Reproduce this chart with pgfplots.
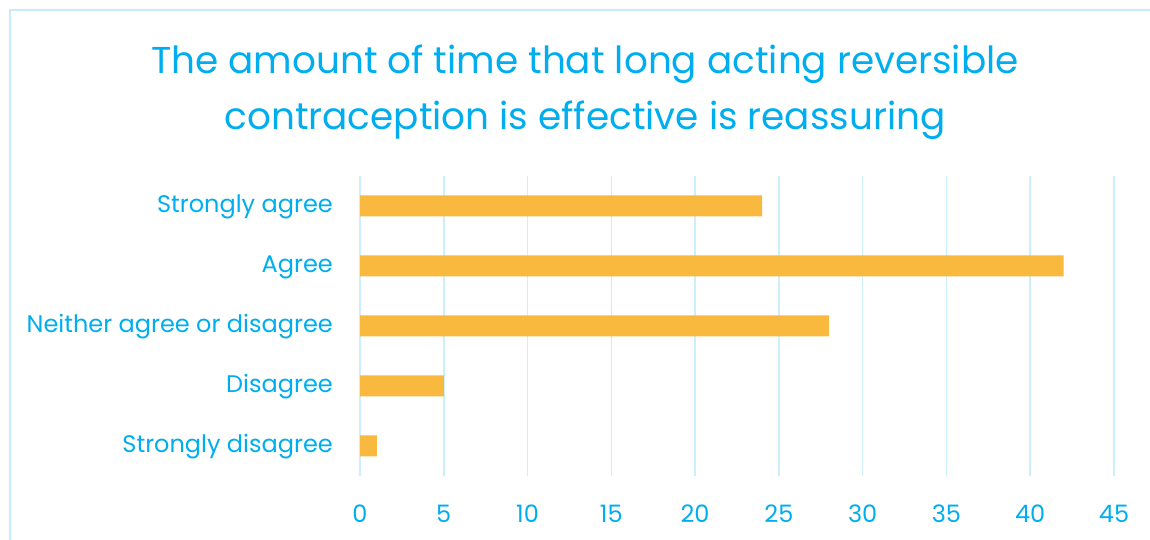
\documentclass[border=0pt]{standalone}
\usepackage{pgfplots}
\pgfplotsset{compat=1.18}
\usepackage{fontspec}
\setmainfont{Poppins}
\definecolor{tblue}{HTML}{00AEEF}
\definecolor{gridblue}{HTML}{CDEEFC}
\definecolor{barorange}{HTML}{F9B93E}
\definecolor{borderblue}{HTML}{C8EBFB}
\begin{document}
\begin{tikzpicture}
\path[use as bounding box] (0pt,0pt) rectangle (1150pt,540pt);
\draw[borderblue, line width=1.5pt] (10pt,-20pt) rectangle (1180pt,530pt);
\node[tblue, font=\fontsize{37.4}{44}\selectfont, anchor=base] at (585pt,466pt) {The amount of time that long acting reversible};
\node[tblue, font=\fontsize{37.4}{44}\selectfont, anchor=base] at (585pt,410pt) {contraception is effective is reassuring};
\begin{axis}[
  at={(360pt,64pt)}, anchor=south west,
  scale only axis, width=754pt, height=300pt,
  xmin=0, xmax=45, ymin=-0.5, ymax=4.5,
  xbar, bar width=21pt,
  axis line style={draw=none},
  major tick length=0pt,
  xtick={0,5,...,45},
  ytick={0,1,2,3,4},
  yticklabels={Strongly disagree,Disagree,Neither agree or disagree,Agree,Strongly agree},
  xmajorgrids, ymajorgrids=false,
  grid style={gridblue, line width=1.5pt},
  /pgf/number format/assume math mode=true,
  yticklabel style={tblue, font=\fontsize{24}{28}\selectfont, anchor=base east, inner sep=0pt, xshift=-27pt, yshift=-6.7pt},
  xticklabel style={tblue, font=\fontsize{24}{28}\selectfont, anchor=north, inner sep=0pt, yshift=-29pt},
]
\addplot[fill=barorange, draw=none] coordinates {(1,0) (5,1) (28,2) (42,3) (24,4)};
\end{axis}
\end{tikzpicture}
\end{document}
